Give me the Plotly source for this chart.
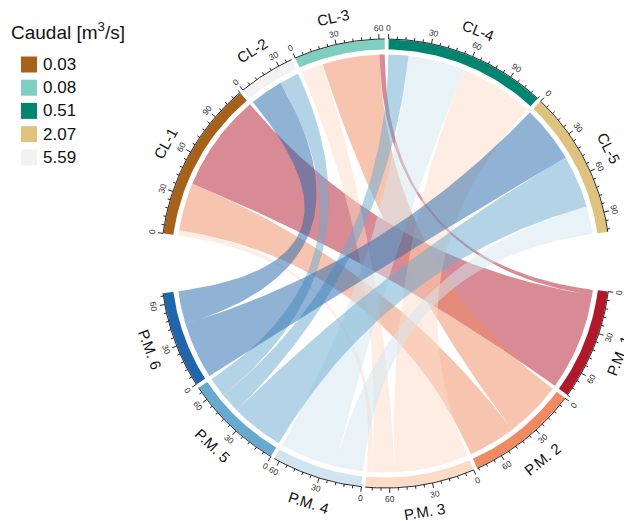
import numpy as np
import plotly.graph_objects as go

# Upper half: channels and their discharge class
cl_names = ["CL-1", "CL-2", "CL-3", "CL-4", "CL-5"]
cl_caudal = ["0.03", "5.59", "0.08", "0.51", "2.07"]

# Discharge legend (m3/s) and its palette
caudal_levels = ["0.03", "0.08", "0.51", "2.07", "5.59"]
caudal_colors = ["#A6611A", "#80CDC1", "#018571", "#DFC27D", "#F2F2F2"]

# Lower half: sampling points
pm_names = ["P.M. 1", "P.M. 2", "P.M. 3", "P.M. 4", "P.M. 5", "P.M. 6"]
pm_colors = ["#B2182B", "#EF8A62", "#FDDBC7", "#D1E5F0", "#67A9CF", "#2166AC"]

# Flows from each channel to each sampling point (P.M. 1 ... P.M. 6)
flow_cl1 = [74, 36, 4, 0, 0, 0]
flow_cl2 = [0, 0, 0, 0, 15, 25]
flow_cl3 = [4, 43, 17, 0, 0, 0]
flow_cl4 = [0, 0, 56, 43, 15, 0]
flow_cl5 = [0, 0, 0, 21, 40, 43]

flows = np.array([flow_cl1, flow_cl2, flow_cl3, flow_cl4, flow_cl5], dtype=float)

# ---- circular layout (degrees, counter-clockwise from east, drawn clockwise)
START = 172.3
GAP = 1.0
BIG_GAP = 15.3
R_LINK = 209.0
R_TRACK_IN = 214.0
R_TRACK_OUT = 224.0
R_TICK_LAB = 235.5
R_NAME = 251.0
FONT = "Liberation Sans, Arial, sans-serif"

cl_size = flows.sum(axis=1)
pm_size = flows.sum(axis=0)
total = flows.sum()
n_cl, n_pm = len(cl_names), len(pm_names)
dpu = (360 - 2 * BIG_GAP - GAP * (n_cl - 1) - GAP * (n_pm - 1)) / (2 * total)

sectors = []  # (name, start_angle, size, color)
ang = START
for k in range(n_cl):
    color = caudal_colors[caudal_levels.index(cl_caudal[k])]
    sectors.append((cl_names[k], ang, cl_size[k], color))
    ang -= cl_size[k] * dpu + (GAP if k < n_cl - 1 else BIG_GAP)
for k in range(n_pm):
    sectors.append((pm_names[k], ang, pm_size[k], pm_colors[k]))
    ang -= pm_size[k] * dpu + GAP

cl_start = [sectors[k][1] for k in range(n_cl)]
pm_start = [sectors[n_cl + k][1] for k in range(n_pm)]


def xy(theta, r):
    t = np.radians(theta)
    return r * np.cos(t), r * np.sin(t)


def arc(a1, a2, r, n=40):
    th = np.linspace(a1, a2, n)
    return list(xy(th, r)[0]), list(xy(th, r)[1])


def bezier(a, b, r, n=60):
    x0, y0 = xy(a, r)
    x2, y2 = xy(b, r)
    t = np.linspace(0, 1, n)
    bx = (1 - t) ** 2 * x0 + t ** 2 * x2
    by = (1 - t) ** 2 * y0 + t ** 2 * y2
    return list(bx), list(by)


def rgba(hexc, a):
    h = hexc.lstrip("#")
    return "rgba(%d,%d,%d,%.2f)" % (int(h[0:2], 16), int(h[2:4], 16), int(h[4:6], 16), a)


# offsets of every link inside its sector (links to far sectors first)
cl_off = np.zeros_like(flows)
for i in range(n_cl):
    acc = 0.0
    for j in reversed(range(n_pm)):
        cl_off[i, j] = acc
        acc += flows[i, j]
pm_off = np.zeros_like(flows)
for j in range(n_pm):
    acc = 0.0
    for i in reversed(range(n_cl)):
        pm_off[i, j] = acc
        acc += flows[i, j]

fig = go.Figure()

# ---- links
for i in range(n_cl):
    for j in range(n_pm):
        v = flows[i, j]
        if v <= 0:
            continue
        a1 = cl_start[i] - cl_off[i, j] * dpu
        a2 = a1 - v * dpu
        b1 = pm_start[j] - pm_off[i, j] * dpu
        b2 = b1 - v * dpu
        xs, ys = [], []
        for seg in (arc(a1, a2, R_LINK), bezier(a2, b1, R_LINK),
                    arc(b1, b2, R_LINK), bezier(b2, a1, R_LINK)):
            xs += seg[0]
            ys += seg[1]
        fig.add_trace(go.Scatter(x=xs, y=ys, mode="lines", fill="toself",
                                 fillcolor=rgba(pm_colors[j], 0.5),
                                 line=dict(width=0), hoverinfo="skip",
                                 showlegend=False))

# ---- sector tracks
for name, s, size, color in sectors:
    e = s - size * dpu
    ox, oy = arc(s, e, R_TRACK_OUT)
    ix, iy = arc(e, s, R_TRACK_IN)
    fig.add_trace(go.Scatter(x=ox + ix + [ox[0]], y=oy + iy + [oy[0]],
                             mode="lines", fill="toself", fillcolor=color,
                             line=dict(width=0), hoverinfo="skip",
                             showlegend=False))

# ---- axes with ticks
ax_x, ax_y = [], []
tk_x, tk_y = [], []
annotations = []


def text_angle(theta):
    c, s = np.cos(np.radians(theta)), np.sin(np.radians(theta))
    if s >= 0:
        return float(np.degrees(np.arctan2(c, s)))
    return float(np.degrees(np.arctan2(-c, -s)))


for name, s, size, color in sectors:
    e = s - size * dpu
    lx, ly = arc(s, e, R_TRACK_OUT + 0.5)
    ax_x += lx + [None]
    ax_y += ly + [None]
    for v in np.arange(0, size + 1e-9, 6):
        th = s - v * dpu
        major = (v % 30 == 0)
        L = 5.0 if major else 2.8
        x0, y0 = xy(th, R_TRACK_OUT + 0.5)
        x1, y1 = xy(th, R_TRACK_OUT + 0.5 + L)
        tk_x += [x0, x1, None]
        tk_y += [y0, y1, None]
        if major:
            tx, ty = xy(th, R_TICK_LAB)
            annotations.append(dict(x=tx, y=ty, text=str(int(v)), showarrow=False,
                                    textangle=text_angle(th),
                                    font=dict(size=8.5, color="#333333", family=FONT),
                                    xanchor="center", yanchor="middle"))
    mid = s - size * dpu / 2
    nx, ny = xy(mid, R_NAME)
    annotations.append(dict(x=nx, y=ny, text=name, showarrow=False,
                            textangle=text_angle(mid),
                            font=dict(size=15, color="#111111", family=FONT),
                            xanchor="center", yanchor="middle"))

fig.add_trace(go.Scatter(x=ax_x, y=ax_y, mode="lines",
                         line=dict(color="#111111", width=0.9),
                         hoverinfo="skip", showlegend=False))
fig.add_trace(go.Scatter(x=tk_x, y=tk_y, mode="lines",
                         line=dict(color="#111111", width=0.9),
                         hoverinfo="skip", showlegend=False))

# ---- discharge legend (pixel layout converted to the centred frame)
CX, CY = 385.5, 263.5


def px(x, y):
    return x - CX, CY - y


shapes = []
tx, ty = px(9, 31)
annotations.append(dict(x=tx, y=ty, text="Caudal [m<sup>3</sup>/s]", showarrow=False,
                        xanchor="left", yanchor="middle",
                        font=dict(size=19, color="#111111", family=FONT)))
for k, (lev, col) in enumerate(zip(caudal_levels, caudal_colors)):
    yc = 64.5 + k * 23.2
    x0, y0 = px(21, yc - 8)
    x1, y1 = px(37, yc + 8)
    shapes.append(dict(type="rect", x0=x0, y0=y1, x1=x1, y1=y0,
                       fillcolor=col, line=dict(width=0), layer="above"))
    lx, ly = px(41, yc)
    annotations.append(dict(x=lx, y=ly, text=lev, showarrow=False,
                            xanchor="left", yanchor="middle",
                            font=dict(size=17, color="#111111", family=FONT)))

fig.update_layout(
    width=624, height=521,
    margin=dict(l=0, r=0, t=0, b=0),
    paper_bgcolor="white", plot_bgcolor="white",
    xaxis=dict(range=[-CX, 624 - CX], visible=False, fixedrange=True),
    yaxis=dict(range=[CY - 521, CY], visible=False, fixedrange=True),
    annotations=annotations, shapes=shapes,
    showlegend=False,
)

fig.write_html("out.html")
